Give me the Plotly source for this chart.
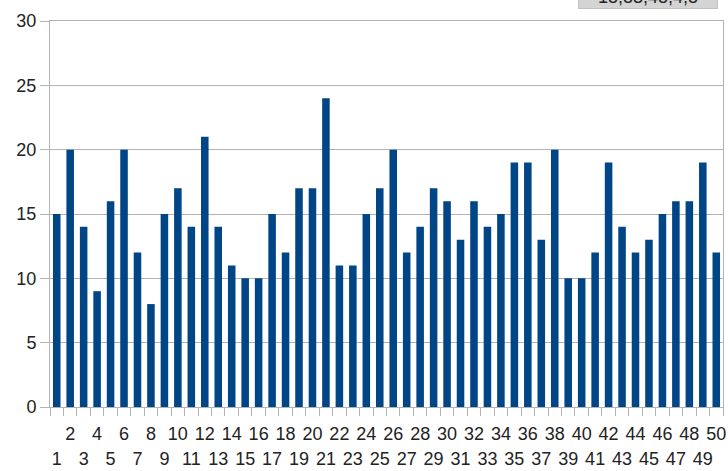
import plotly.graph_objects as go

categories = list(range(1, 51))
values = [15, 20, 14, 9, 16, 20, 12, 8, 15, 17,
          14, 21, 14, 11, 10, 10, 15, 12, 17, 17,
          24, 11, 11, 15, 17, 20, 12, 14, 17, 16,
          13, 16, 14, 15, 19, 19, 13, 20, 10, 10,
          12, 19, 14, 12, 13, 15, 16, 16, 19, 12]
even_labels = [c for c in categories if c % 2 == 0]
odd_labels = [c for c in categories if c % 2 == 1]
y_ticks = [0, 5, 10, 15, 20, 25, 30]
corner_text = "18,83,48,4,8"

BAR = "#004586"
GRID = "#b3b3b3"
FONT = "Liberation Sans, Arial, sans-serif"
TXT = "#222222"

fig = go.Figure()
fig.add_trace(go.Bar(x=categories, y=values, marker_color=BAR,
                     marker_line_width=0, hoverinfo="skip"))
# invisible helpers so the overlaid label axes are drawn
for ax in ("x2", "x3"):
    fig.add_trace(go.Scatter(x=categories, y=values, xaxis=ax, mode="markers",
                             marker=dict(opacity=0), hoverinfo="skip",
                             showlegend=False))

xr = [0.5, 50.5]
fig.update_layout(
    width=728, height=471,
    margin=dict(l=50, r=5, t=21, b=64),
    paper_bgcolor="white", plot_bgcolor="white",
    showlegend=False, bargap=0.44,
    font=dict(family=FONT, color=TXT),
    xaxis=dict(range=xr, tickmode="array",
               tickvals=[c - 0.5 for c in categories] + [50.5],
               ticktext=[""] * 51, ticks="outside", ticklen=8,
               tickcolor=GRID, showgrid=False, showline=True,
               linecolor=GRID, mirror=True, zeroline=False, automargin=False),
    xaxis2=dict(range=xr, overlaying="x", anchor="y", side="bottom",
                tickmode="array", tickvals=even_labels,
                ticktext=[str(c) for c in even_labels],
                ticks="", showgrid=False, showline=False, zeroline=False,
                tickfont=dict(size=18, family=FONT, color=TXT),
                ticklabelstandoff=14, automargin=False),
    xaxis3=dict(range=xr, overlaying="x", anchor="y", side="bottom",
                tickmode="array", tickvals=odd_labels,
                ticktext=[str(c) for c in odd_labels],
                ticks="", showgrid=False, showline=False, zeroline=False,
                tickfont=dict(size=18, family=FONT, color=TXT),
                ticklabelstandoff=39, automargin=False),
    yaxis=dict(range=[0, 30], tickmode="array", tickvals=y_ticks,
               ticks="outside", ticklen=9, tickcolor=GRID,
               showgrid=True, gridcolor=GRID, gridwidth=1,
               showline=True, linecolor=GRID, mirror=True, automargin=False,
               zeroline=False, tickfont=dict(size=18, family=FONT, color=TXT)),
)

fig.add_annotation(text=corner_text, xref="paper", yref="paper",
                   x=0.993, y=1, xanchor="right", yanchor="bottom",
                   yshift=12, showarrow=False, bgcolor="#d4d4d4",
                   bordercolor="#c0c0c0", borderwidth=1, borderpad=1,
                   width=136, font=dict(size=18, family=FONT, color=TXT))

fig.write_html("out.html", config={"displayModeBar": False},
               post_script="document.body.style.margin='0';"
                           "document.body.style.overflow='hidden';")
